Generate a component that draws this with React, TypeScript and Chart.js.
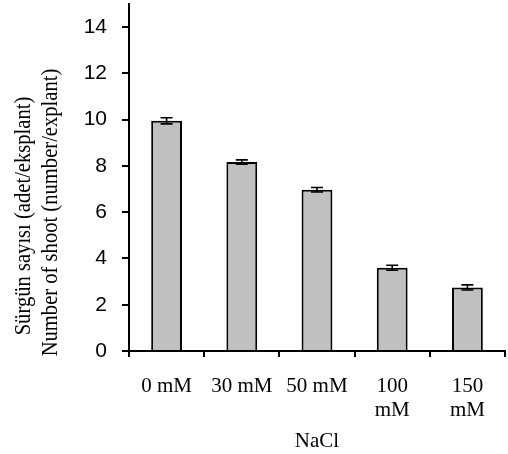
import { useEffect, useRef } from "react";
import { Chart, registerables } from "chart.js";

Chart.register(...registerables);

const categories: (string | string[])[] = ["0 mM", "30 mM", "50 mM", ["100", "mM"], ["150", "mM"]];
const shootCounts = [9.95, 8.17, 6.97, 3.6, 2.75];
const shootErrors = [0.13, 0.09, 0.1, 0.11, 0.11];
const yTickValues = [0, 2, 4, 6, 8, 10, 12, 14];
const yTitleLines = ["Sürgün sayısı (adet/eksplant)", "Number of shoot (number/explant)"];
const xTitle = "NaCl";

const SERIF = '"Liberation Serif", "Times New Roman", serif';
const SANS = '"Liberation Sans", Arial, sans-serif';

const errorBarPlugin = {
  id: "errorBars",
  afterDatasetsDraw(chart: any) {
    const { ctx, scales } = chart;
    const xs = scales.x;
    const ys = scales.y;
    ctx.save();
    ctx.strokeStyle = "#000";
    ctx.lineWidth = 1.6;
    shootCounts.forEach((v, i) => {
      const e = shootErrors[i];
      const x = xs.getPixelForValue(i);
      const yt = ys.getPixelForValue(v + e);
      const yb = ys.getPixelForValue(v - e);
      const half = 6;
      ctx.beginPath();
      ctx.moveTo(x, yt);
      ctx.lineTo(x, yb);
      ctx.moveTo(x - half, yt);
      ctx.lineTo(x + half, yt);
      ctx.moveTo(x - half, yb);
      ctx.lineTo(x + half, yb);
      ctx.stroke();
    });
    ctx.restore();
  },
};

const yTitlePlugin = {
  id: "yTitleLines",
  afterDraw(chart: any) {
    const { ctx } = chart;
    const pos = [
      { x: 23.5, y: 216 },
      { x: 51, y: 212.5 },
    ];
    ctx.save();
    ctx.fillStyle = "#000";
    ctx.font = `20.6px ${SERIF}`;
    ctx.textAlign = "center";
    ctx.textBaseline = "middle";
    yTitleLines.forEach((line, i) => {
      ctx.save();
      ctx.translate(pos[i].x, pos[i].y);
      ctx.scale(1.15, 1);
      ctx.rotate(-Math.PI / 2);
      ctx.fillText(line, 0, 0);
      ctx.restore();
    });
    ctx.restore();
  },
};

export default function App() {
  const ref = useRef<HTMLCanvasElement | null>(null);

  useEffect(() => {
    document.body.style.margin = "0";
    if (!ref.current) return;
    const chart = new Chart(ref.current, {
      type: "bar",
      data: {
        labels: categories,
        datasets: [
          {
            data: shootCounts,
            backgroundColor: "#c0c0c0",
            borderColor: "#000",
            borderWidth: 2,
            barPercentage: 0.41,
            categoryPercentage: 1,
          },
        ],
      },
      options: {
        animation: false,
        responsive: false,
        devicePixelRatio: 1,
        layout: { padding: { top: 4, right: 3, bottom: 0, left: 0 } },
        plugins: {
          legend: { display: false },
          tooltip: { enabled: false },
        },
        scales: {
          x: {
            grid: {
              display: true,
              drawOnChartArea: false,
              drawTicks: true,
              tickLength: 6,
              color: "#000",
              lineWidth: 2,
              offset: true,
            },
            border: { display: true, color: "#000", width: 2 },
            ticks: {
              color: "#000",
              font: { family: SERIF, size: 21, lineHeight: 1.17 },
              padding: 17,
              maxRotation: 0,
              autoSkip: false,
            },
            title: {
              display: true,
              text: xTitle,
              color: "#000",
              font: { family: SERIF, size: 21, lineHeight: 1.2 },
              padding: { top: 0, bottom: 0 },
            },
            afterFit(scale: any) {
              scale.height = 103;
              scale.paddingLeft = 0;
              scale.paddingRight = 0;
            },
          },
          y: {
            min: 0,
            max: 15,
            grid: {
              display: true,
              drawOnChartArea: false,
              drawTicks: true,
              tickLength: 7,
              color: "#000",
              lineWidth: 2,
            },
            border: { display: true, color: "#000", width: 2 },
            afterBuildTicks(scale: any) {
              scale.ticks = yTickValues.map((v) => ({ value: v }));
            },
            ticks: {
              color: "#000",
              font: { family: SANS, size: 21 },
              padding: 15,
              includeBounds: false,
            },
            title: { display: false },
            afterFit(scale: any) {
              scale.width = 129;
              scale.paddingTop = 0;
              scale.paddingBottom = 0;
            },
          },
        },
      },
      plugins: [errorBarPlugin, yTitlePlugin],
    });
    return () => chart.destroy();
  }, []);

  return (
    <div style={{ width: 508, height: 454 }}>
      <canvas ref={ref} width={508} height={454} />
    </div>
  );
}
